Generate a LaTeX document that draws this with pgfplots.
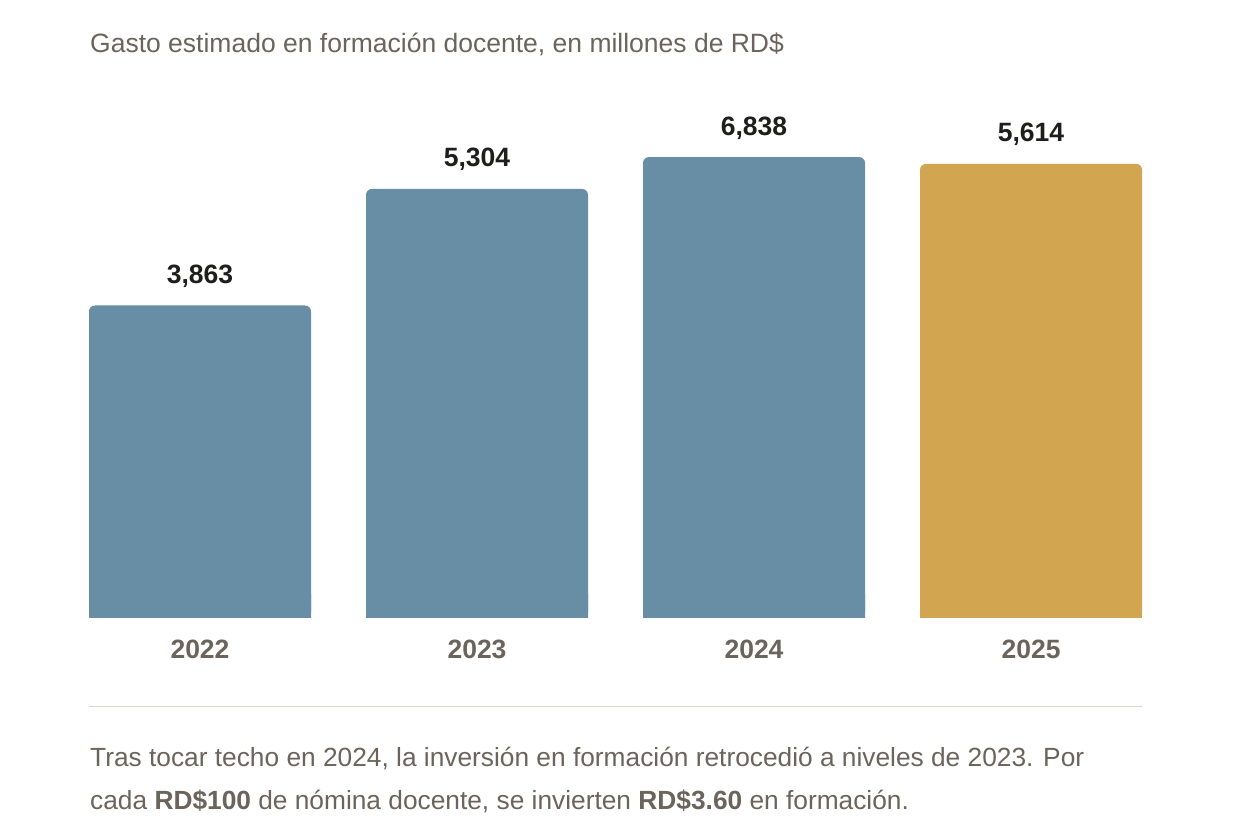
\documentclass[border=0pt]{standalone}
\usepackage{pgfplots}
\pgfplotsset{compat=1.18}
\usepackage{fontspec}
\setmainfont{Liberation Sans}
\definecolor{barblue}{RGB}{104,142,166}
\definecolor{bargold}{RGB}{210,165,80}
\definecolor{textgray}{RGB}{107,100,92}
\definecolor{labelblack}{RGB}{30,30,28}
\definecolor{rulegray}{RGB}{217,214,210}
\pgfplotstableread{
x y label
0 3863 {3,863}
1 5304 {5,304}
2 5698 {6,838}
}\blues
\pgfplotstableread{
x y label
3 5614 {5,614}
}\golds
\begin{document}
\begin{tikzpicture}
\path[use as bounding box] (0,0) rectangle (1235bp,834bp);
\begin{axis}[
  at={(89bp,216bp)}, anchor=south west,
  scale only axis, width=1053bp, height=566.3bp,
  xmin=-0.4007, xmax=3.4007, ymin=0, ymax=7000,
  ybar, bar width=222bp, bar shift=0pt,
  axis line style={draw=none},
  ytick=\empty, xtick={0,1,2,3}, xticklabels={2022,2023,2024,2025},
  major tick length=0pt,
  xticklabel style={anchor=base, yshift=-41bp, font=\fontsize{26.5bp}{30bp}\selectfont\bfseries, text=textgray},
  every node near coord/.append style={anchor=base, yshift=22bp, font=\fontsize{26.5bp}{30bp}\selectfont\bfseries, text=labelblack},
]
\addplot[fill=barblue, draw=none, rounded corners=6bp, nodes near coords, point meta=explicit symbolic] table[x=x, y=y, meta=label] {\blues};
\addplot[fill=bargold, draw=none, rounded corners=6bp, nodes near coords, point meta=explicit symbolic] table[x=x, y=y, meta=label] {\golds};
\addplot[fill=barblue, draw=none, forget plot] coordinates {(0,300) (1,300) (2,300)};
\addplot[fill=bargold, draw=none, forget plot] coordinates {(3,300)};
\end{axis}
\node[anchor=base west, inner sep=0, text=textgray, font=\fontsize{26.5bp}{30bp}\selectfont] at (90bp,781bp) {Gasto estimado en formación docente, en millones de RD\$};
\draw[rulegray, line width=1bp] (89bp,127bp) -- (1142bp,127bp);
\node[anchor=base west, inner sep=0, text=textgray, font=\fontsize{26.3bp}{30bp}\selectfont] at (90bp,67bp) {Tras tocar techo en 2024, la inversión en formación retrocedió a niveles de 2023. Por};
\node[anchor=base west, inner sep=0, text=textgray, font=\fontsize{26.3bp}{30bp}\selectfont] at (90bp,25bp) {cada \textbf{RD\$100} de nómina docente, se invierten \textbf{RD\$3.60} en formación.};
\end{tikzpicture}
\end{document}
